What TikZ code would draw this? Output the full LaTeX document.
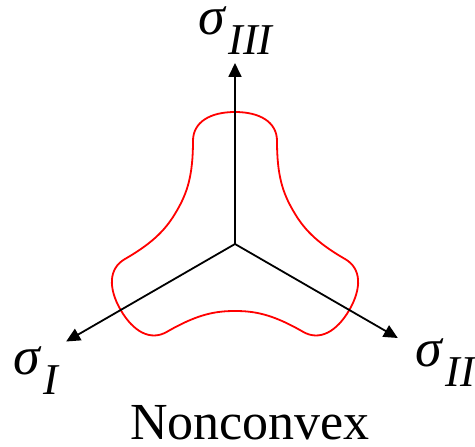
\documentclass[tikz,border=0pt]{standalone}
\usepackage{fontspec}
\setmainfont{Liberation Serif}
\usetikzlibrary{arrows.meta}
\newcommand{\sig}[1]{\textit{σ}\kern2pt\raisebox{-20pt}{\fontsize{44}{44}\selectfont\textit{#1}}}

\begin{document}
\begin{tikzpicture}[x=1pt,y=1pt,
  axis/.style={line width=1.8pt,-{Triangle[length=14pt,width=13pt]}},
  yield/.style={red,line width=1.8pt,line join=round},
  lab/.style={font=\fontsize{54}{54}\selectfont,inner sep=0pt,anchor=base west}]
\useasboundingbox (-235,-203) rectangle (240,244);
\coordinate (O) at (0,0);
\coordinate (e1) at (210:195);
\coordinate (e2) at (330:188);
\coordinate (e3) at (90:181);
% nonconvex yield surface, one lobe per axis
\draw[yield] (90:132)
  \foreach \a in {90,-30,-150} {
    .. controls (\a-10.7:134.3) and (\a-19:129) .. (\a-22.2:111.2)
    .. controls (\a-31.7:79.9) and (\a-43.4:69.9) .. (\a-60:67)
    .. controls (\a-76.6:69.9) and (\a-88.3:79.9) .. (\a-97.8:111.2)
    .. controls (\a-101:129) and (\a-109.3:134.3) .. (\a-120:132)
  } -- cycle;
% principal axes
\draw[axis] (O) -- (e1);
\draw[axis] (O) -- (e2);
\draw[axis] (O) -- (e3);
\node[lab] (s1) at (-222,-131) {\sig{I}};
\node[lab] (s2) at (180,-123) {\sig{II}};
\node[lab] (s3) at (-37,209) {\sig{III}};
\node[font=\fontsize{52}{52}\selectfont,anchor=base,inner sep=0pt,text depth=0pt] (cap) at (15,-196) {Nonconvex};
\end{tikzpicture}
\end{document}
